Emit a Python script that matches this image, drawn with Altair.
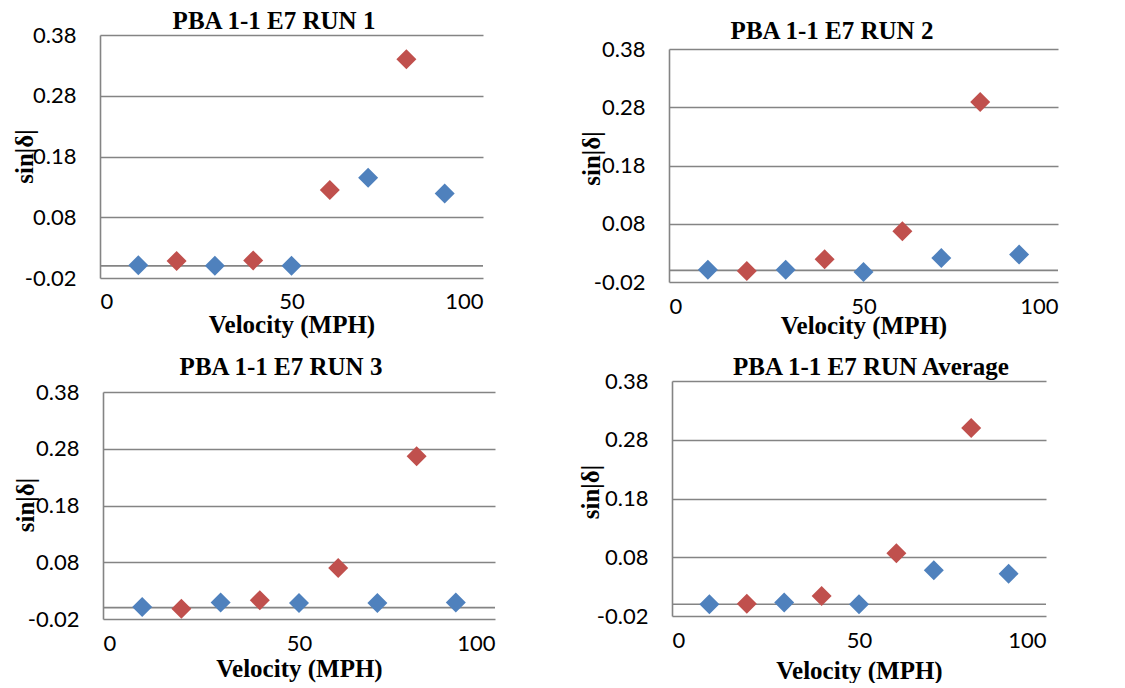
import altair as alt
import pandas as pd

# ---- data ----
velocity = [10, 20, 30, 40, 50, 60, 70, 80, 90]
series = ["Series 1", "Series 2", "Series 1", "Series 2", "Series 1",
          "Series 2", "Series 1", "Series 2", "Series 1"]
run1 = [0.001, 0.008, 0.000, 0.009, 0.000, 0.125, 0.145, 0.340, 0.119]
run2 = [0.001, -0.001, 0.001, 0.019, -0.003, 0.067, 0.021, 0.289, 0.027]
run3 = [0.001, -0.002, 0.009, 0.013, 0.008, 0.070, 0.008, 0.267, 0.009]
run_avg = [0.000, 0.001, 0.003, 0.014, 0.000, 0.087, 0.058, 0.300, 0.052]

titles = ["PBA 1-1 E7 RUN 1", "PBA 1-1 E7 RUN 2",
          "PBA 1-1 E7 RUN 3", "PBA 1-1 E7 RUN Average"]
y_ticks = [-0.02, 0.08, 0.18, 0.28, 0.38]
x_ticks = [0, 50, 100]
zero_line = {"x": [0], "x2": [100], "y": [0]}

BLUE = "#4F81BD"
RED = "#C0504D"
GRID = "#848484"
SERIF = "Liberation Serif"
SANS = "Lato"


def panel(vals, title, xr, yr, w, h, tdx, tdy, xpad, xty, ytx, yty, yoff):
    df = pd.DataFrame({"Velocity": velocity, "sin": vals, "series": series})
    xs = alt.Scale(domain=[0, 100], range=xr, nice=False, zero=False)
    ys = alt.Scale(domain=[-0.02, 0.38], range=yr, nice=False, zero=False)
    x_axis = alt.Axis(values=x_ticks, grid=False, domain=False, ticks=False,
                      tickSize=0, labelPadding=xpad, labelFont=SANS,
                      labelFontSize=22, labelColor="black",
                      title="Velocity (MPH)", titleFont=SERIF,
                      titleFontWeight="bold", titleFontSize=25,
                      titleColor="black", titleBaseline="alphabetic",
                      titleY=xty)
    y_axis = alt.Axis(values=y_ticks,
                      labelExpr="replace(format(datum.value, '.2f'), '\u2212', '-')",
                      grid=True, gridColor=GRID, gridWidth=1.6,
                      domain=True, domainColor=GRID, domainWidth=1.6,
                      ticks=False, tickSize=0, labelPadding=24,
                      labelFont=SANS, labelFontSize=22, labelColor="black",
                      title="sin|\u03b4|", titleFont=SERIF,
                      titleFontWeight="bold", titleFontSize=25,
                      titleColor="black", titleBaseline="alphabetic",
                      titleAlign="center", titleX=ytx, titleY=yty,
                      offset=yoff)
    zero = alt.Chart(pd.DataFrame(zero_line)).mark_rule(
        color=GRID, strokeWidth=1.6).encode(
        x=alt.X("x:Q", scale=xs, axis=x_axis),
        x2="x2:Q",
        y=alt.Y("y:Q", scale=ys, axis=y_axis),
    )
    pts = alt.Chart(df).mark_point(
        shape="diamond", filled=True, size=400, opacity=1).encode(
        x=alt.X("Velocity:Q", scale=xs, axis=x_axis),
        y=alt.Y("sin:Q", scale=ys, axis=y_axis),
        color=alt.Color("series:N",
                        scale=alt.Scale(domain=["Series 1", "Series 2"],
                                        range=[BLUE, RED]),
                        legend=None),
    )
    return alt.layer(zero, pts).properties(
        width=w, height=h,
        title=alt.TitleParams(text=title, font=SERIF, fontSize=25,
                              fontWeight="bold", color="black",
                              anchor="middle", frame="group",
                              baseline="alphabetic", offset=0,
                              dx=tdx, dy=tdy),
    )


p1 = panel(run1, titles[0], [0, 383], [243, 0], 395, 247,
           -23.5, 29.5, 9, 50, -68, 121, 0)
p2 = panel(run2, titles[1], [0, 389], [247, 14], 389, 247,
           -31.5, 28.5, 14, 51, -70, 123, 0)
p3 = panel(run3, titles[2], [3, 395], [238, 11], 395, 238,
           -16.5, 18.5, 14, 57, -70, 123.5, -3)
p4 = panel(run_avg, titles[3], [3, 377], [235, 0], 389, 238,
           7.5, 30.2, 11, 59, -74, 110.5, -3)

chart = alt.concat(
    p1, p2, p3, p4, columns=2, bounds="flush",
    spacing={"row": 99, "column": 174},
).configure_view(stroke=None).properties(
    background="white",
    padding={"left": 4, "top": 0, "right": 5, "bottom": 0},
)

chart.save("out.html", embed_options={"renderer": "svg", "actions": False})
